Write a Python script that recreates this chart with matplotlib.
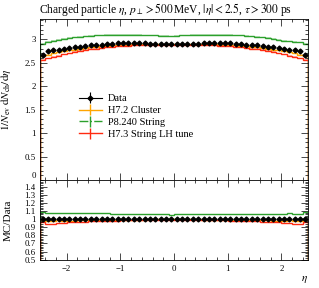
import matplotlib
matplotlib.use("Agg")
import matplotlib.pyplot as plt
import numpy as np
from matplotlib.ticker import MultipleLocator, FormatStrFormatter

plt.rcParams["font.family"] = ["Liberation Serif", "DejaVu Serif"]
plt.rcParams["mathtext.fontset"] = "stix"
plt.rcParams["font.size"] = 7.5

# bin edges in eta (50 bins of 0.1)
edges = np.linspace(-2.5, 2.5, 51)
centers = 0.5 * (edges[:-1] + edges[1:])

data_half = [2.67, 2.75, 2.78, 2.77, 2.80, 2.82, 2.84, 2.84, 2.86, 2.87,
             2.88, 2.88, 2.89, 2.90, 2.91, 2.91, 2.91, 2.91, 2.91, 2.91,
             2.90, 2.90, 2.90, 2.90, 2.90]
data = np.array(data_half + data_half[::-1])

h72_half = [2.64, 2.67, 2.70, 2.72, 2.74, 2.76, 2.78, 2.80, 2.81, 2.83,
            2.84, 2.85, 2.86, 2.87, 2.87, 2.88, 2.88, 2.89, 2.89, 2.89,
            2.89, 2.89, 2.89, 2.89, 2.89]
h72 = np.array(h72_half + h72_half[::-1])

p8 = np.array([2.90, 2.94, 2.97, 2.99, 3.01, 3.03, 3.04, 3.05, 3.06, 3.07,
               3.08, 3.08, 3.09, 3.09, 3.09, 3.09, 3.09, 3.09, 3.09, 3.08,
               3.08, 3.08, 3.07, 3.07, 3.06, 3.07, 3.08, 3.08, 3.09, 3.09,
               3.09, 3.09, 3.09, 3.09, 3.09, 3.09, 3.08, 3.08, 3.07, 3.06,
               3.05, 3.04, 3.03, 3.01, 2.99, 2.97, 2.96, 2.95, 2.93, 2.90])

h73_half = [2.56, 2.59, 2.62, 2.65, 2.68, 2.70, 2.73, 2.75, 2.77, 2.79,
            2.80, 2.82, 2.83, 2.84, 2.85, 2.86, 2.86, 2.87, 2.87, 2.87,
            2.87, 2.87, 2.87, 2.87, 2.87]
h73 = np.array(h73_half + h73_half[::-1])

data_err = np.full(50, 0.03)

mc_sets = [
    ("H7.2 Cluster", h72, "orange", "-"),
    ("P8.240 String", p8, "#2ca02c", "-."),
    ("H7.3 String LH tune", h73, "#ff2a10", "-"),
]

fig = plt.figure(figsize=(3.19, 2.88), dpi=100)
ax = fig.add_axes([0.125, 0.375, 0.841, 0.559])
rax = fig.add_axes([0.125, 0.0955, 0.841, 0.2795], sharex=ax)

# main panel
for label, vals, col, ls in mc_sets:
    ax.fill_between(edges, np.append(vals, vals[-1]) - 0.012,
                    np.append(vals, vals[-1]) + 0.012, step="post",
                    color=col, alpha=0.3, lw=0)
    ax.stairs(vals, edges, color=col, lw=1.0)
    ax.errorbar([], [], yerr=[], color=col, ls=ls, lw=1.0, label=label)
ax.errorbar(centers, data, yerr=data_err, fmt="D", color="black",
            ms=2.5, lw=0.8, capsize=0, zorder=5)
ax.errorbar([], [], yerr=[], fmt="-D", color="black", ms=2.5, lw=0.8,
            label="Data")

handles, labels = ax.get_legend_handles_labels()
order = [3, 0, 1, 2]
ax.legend([handles[i] for i in order], [labels[i] for i in order],
          loc="upper left", bbox_to_anchor=(0.13, 0.56), frameon=False,
          fontsize=7.5, handlelength=2.2, labelspacing=0.25, borderaxespad=0,
          handletextpad=0.6)

ax.set_xlim(-2.5, 2.5)
ax.set_ylim(0, 3.43)
ax.yaxis.set_major_locator(MultipleLocator(0.5))
ax.yaxis.set_minor_locator(MultipleLocator(0.1))
ax.yaxis.set_major_formatter(FormatStrFormatter("%g"))
ax.xaxis.set_major_locator(MultipleLocator(1))
ax.xaxis.set_minor_locator(MultipleLocator(0.2))
ax.set_ylabel(r"$1/N_{\rm ev}\;{\rm d}N_{\rm ch}/{\rm d}\eta$", fontsize=8)
ax.tick_params(labelbottom=False)
ax.set_title(r"Charged particle $\eta$, $p_{\perp} > 500\,$MeV, $|\eta| < 2.5$, $\tau > 300$ ps",
             fontsize=8.3, loc="left", pad=4, x=-0.005)

# ratio panel
rax.fill_between(centers, 1 - data_err / data, 1 + data_err / data,
                 color="#dddddd", lw=0)
for label, vals, col, ls in mc_sets:
    rax.stairs(vals / data, edges, color=col, lw=1.0)
rax.errorbar(centers, np.ones(50), yerr=data_err / data, fmt="D",
             color="black", ms=2.5, lw=0.8, capsize=0, zorder=5)
rax.set_ylim(0.49, 1.48)
rax.yaxis.set_minor_locator(MultipleLocator(0.02))
rax.set_yticks(np.arange(0.5, 1.41, 0.1))
rax.set_yticklabels(["0.5", "0.6", "0.7", "0.8", "0.9", "1", "1.1", "1.2",
                     "1.3", "1.4"])
rax.set_ylabel("MC/Data", fontsize=8)
rax.set_xlabel(r"$\eta$", fontsize=8, loc="right", labelpad=1)

for a in (ax, rax):
    a.tick_params(which="both", direction="in", top=True, right=True,
                  labelsize=6.3, pad=3)
    a.tick_params(which="major", length=5, width=0.5)
    a.tick_params(which="minor", length=2.5, width=0.5)
    for s in a.spines.values():
        s.set_linewidth(0.6)
    a.yaxis.set_label_coords(-0.1, 0.5)

# keep the main-panel "0" label clear of the ratio "1.4" label
for t in ax.get_yticklabels():
    if t.get_text() == "0":
        t.set_verticalalignment("bottom")

fig.savefig("out.png", dpi=100)
